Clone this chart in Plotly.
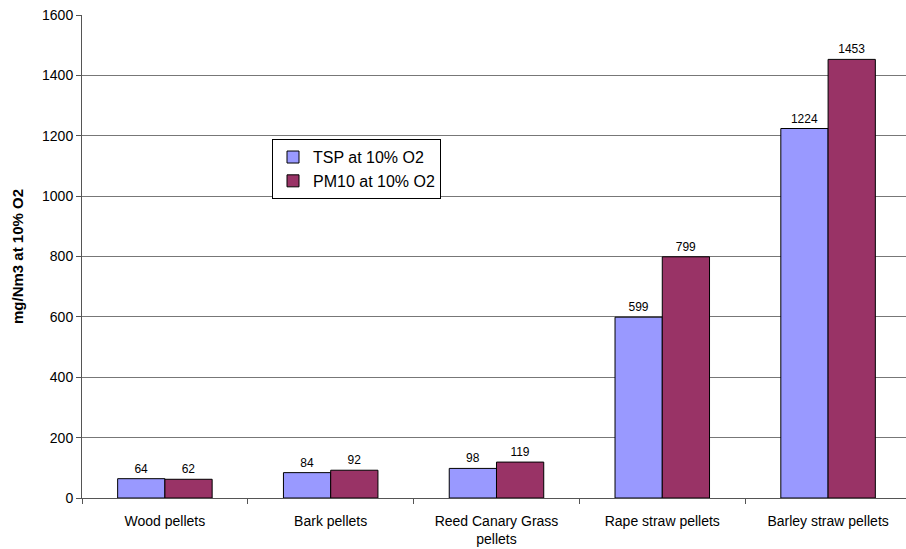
import plotly.graph_objects as go

categories = ["Wood pellets", "Bark pellets", "Reed Canary Grass<br>pellets", "Rape straw pellets", "Barley straw pellets"]
tsp = [64, 84, 98, 599, 1224]
pm10 = [62, 92, 119, 799, 1453]
y_ticks = [0, 200, 400, 600, 800, 1000, 1200, 1400, 1600]

fig = go.Figure()
fig.add_trace(go.Bar(x=categories, y=tsp, name="TSP at 10% O2",
                     marker=dict(color="#9999FF", line=dict(color="#000000", width=1)),
                     text=tsp, textposition="outside", cliponaxis=False,
                     textfont=dict(size=12, color="#000")))
fig.add_trace(go.Bar(x=categories, y=pm10, name="PM10 at 10% O2",
                     marker=dict(color="#993366", line=dict(color="#000000", width=1)),
                     text=pm10, textposition="outside", cliponaxis=False,
                     textfont=dict(size=12, color="#000")))

fig.update_layout(
    width=906, height=549,
    margin=dict(l=82, r=0, t=15, b=51),
    plot_bgcolor="white", paper_bgcolor="white",
    font=dict(family="Liberation Sans, Arial, sans-serif", size=14, color="#000"),
    barmode="group", bargap=0.43, bargroupgap=0,
    showlegend=True,
    legend=dict(x=0.2306, y=0.743, xanchor="left", yanchor="top",
                bordercolor="#000", borderwidth=1, bgcolor="white",
                font=dict(size=16), tracegroupgap=0, itemwidth=30),
    xaxis=dict(range=[-0.5, 4.47], showline=True, linecolor="#555", linewidth=1,
               ticks="outside", tickson="boundaries", ticklen=5, tickcolor="#555",
               ticklabelstandoff=10,
               showgrid=False, tickfont=dict(size=14)),
    yaxis=dict(range=[0, 1600], tickvals=y_ticks, showline=True, linecolor="#555", linewidth=1,
               ticks="outside", ticklen=5, tickcolor="#555",
               showgrid=True, gridcolor="#777", gridwidth=1,
               title=dict(text="<b>mg/Nm3 at 10% O2</b>", font=dict(size=15), standoff=14),
               tickfont=dict(size=14)),
)
fig.write_html("out.html")
